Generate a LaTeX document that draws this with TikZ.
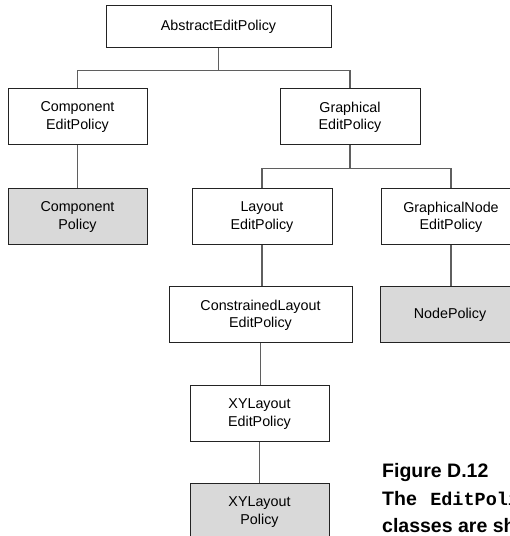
\documentclass[tikz,border=0pt]{standalone}
\usepackage{fontspec}
\setmainfont{Liberation Sans}
\setmonofont{Liberation Mono}
\usepackage{tikz}
\usetikzlibrary{positioning}
\usepackage{xcolor}
\definecolor{policygray}{RGB}{217,217,217}
\definecolor{linkgray}{RGB}{95,95,95}
\definecolor{edgeblack}{RGB}{35,35,35}

\begin{document}
\begin{tikzpicture}[
    x=1pt, y=1pt,
    box/.style={rectangle, draw=edgeblack, fill=white,
                minimum width=140pt, minimum height=56pt, align=center,
                line width=1pt, inner sep=2pt,
                font=\fontsize{14.3}{17.2}\selectfont},
    policy/.style={box, fill=policygray},
    link/.style={line width=1.1pt, draw=linkgray}
]

\useasboundingbox (0,0) rectangle (510,536);
\clip (0,0) rectangle (510,536);
\fill[white] (0,0) rectangle (510,536);

\node[box, minimum width=225pt, minimum height=42pt] (abs) at (218.5,509) {AbstractEditPolicy};

\node[box, minimum width=139pt] (compEP) at (77.5,419) {Component\\EditPolicy};
\node[box, right=132pt of compEP] (graphEP) {Graphical\\EditPolicy};

\node[policy, minimum width=139pt, below=43pt of compEP] (compPol) {Component\\Policy};
\node[box, below=43pt of graphEP, xshift=-88pt] (layoutEP) {Layout\\EditPolicy};
\node[box, right=48pt of layoutEP] (gnodeEP) {GraphicalNode\\EditPolicy};

\node[box, minimum width=183pt, below=41pt of layoutEP, xshift=-1.5pt] (conLayEP) {ConstrainedLayout\\EditPolicy};
\node[policy, below=41pt of gnodeEP, xshift=-1pt] (nodePol) {NodePolicy};

\node[box, minimum width=139pt, below=42pt of conLayEP, xshift=-1pt] (xyEP) {XYLayout\\EditPolicy};
\node[policy, minimum width=139pt, below=41pt of xyEP] (xyPol) {XYLayout\\Policy};

\draw[link] (abs.south) -- ++(0,-22) -| (compEP.north);
\draw[link] (abs.south) -- ++(0,-22) -| (graphEP.north);
\draw[link] (compEP) -- (compPol);
\draw[link] (graphEP.south) -- ++(0,-23) -| (layoutEP.north);
\draw[link] (graphEP.south) -- ++(0,-23) -| (gnodeEP.north);
\draw[link] (layoutEP.south) -- (layoutEP.south |- conLayEP.north);
\draw[link] (gnodeEP.south) -- (gnodeEP.south |- nodePol.north);
\draw[link] (conLayEP.south) -- (conLayEP.south |- xyEP.north);
\draw[link] (xyEP) -- (xyPol);

\node[anchor=base west, align=left, inner sep=0pt,
      font=\fontsize{19.5}{27.5}\selectfont\bfseries] (caption) at (382,3)
    {Figure D.12\\The \hspace{8pt}{\ttfamily\fontsize{18.5}{27.5}\selectfont EditPolicy}\\classes are shown};

\end{tikzpicture}
\end{document}
